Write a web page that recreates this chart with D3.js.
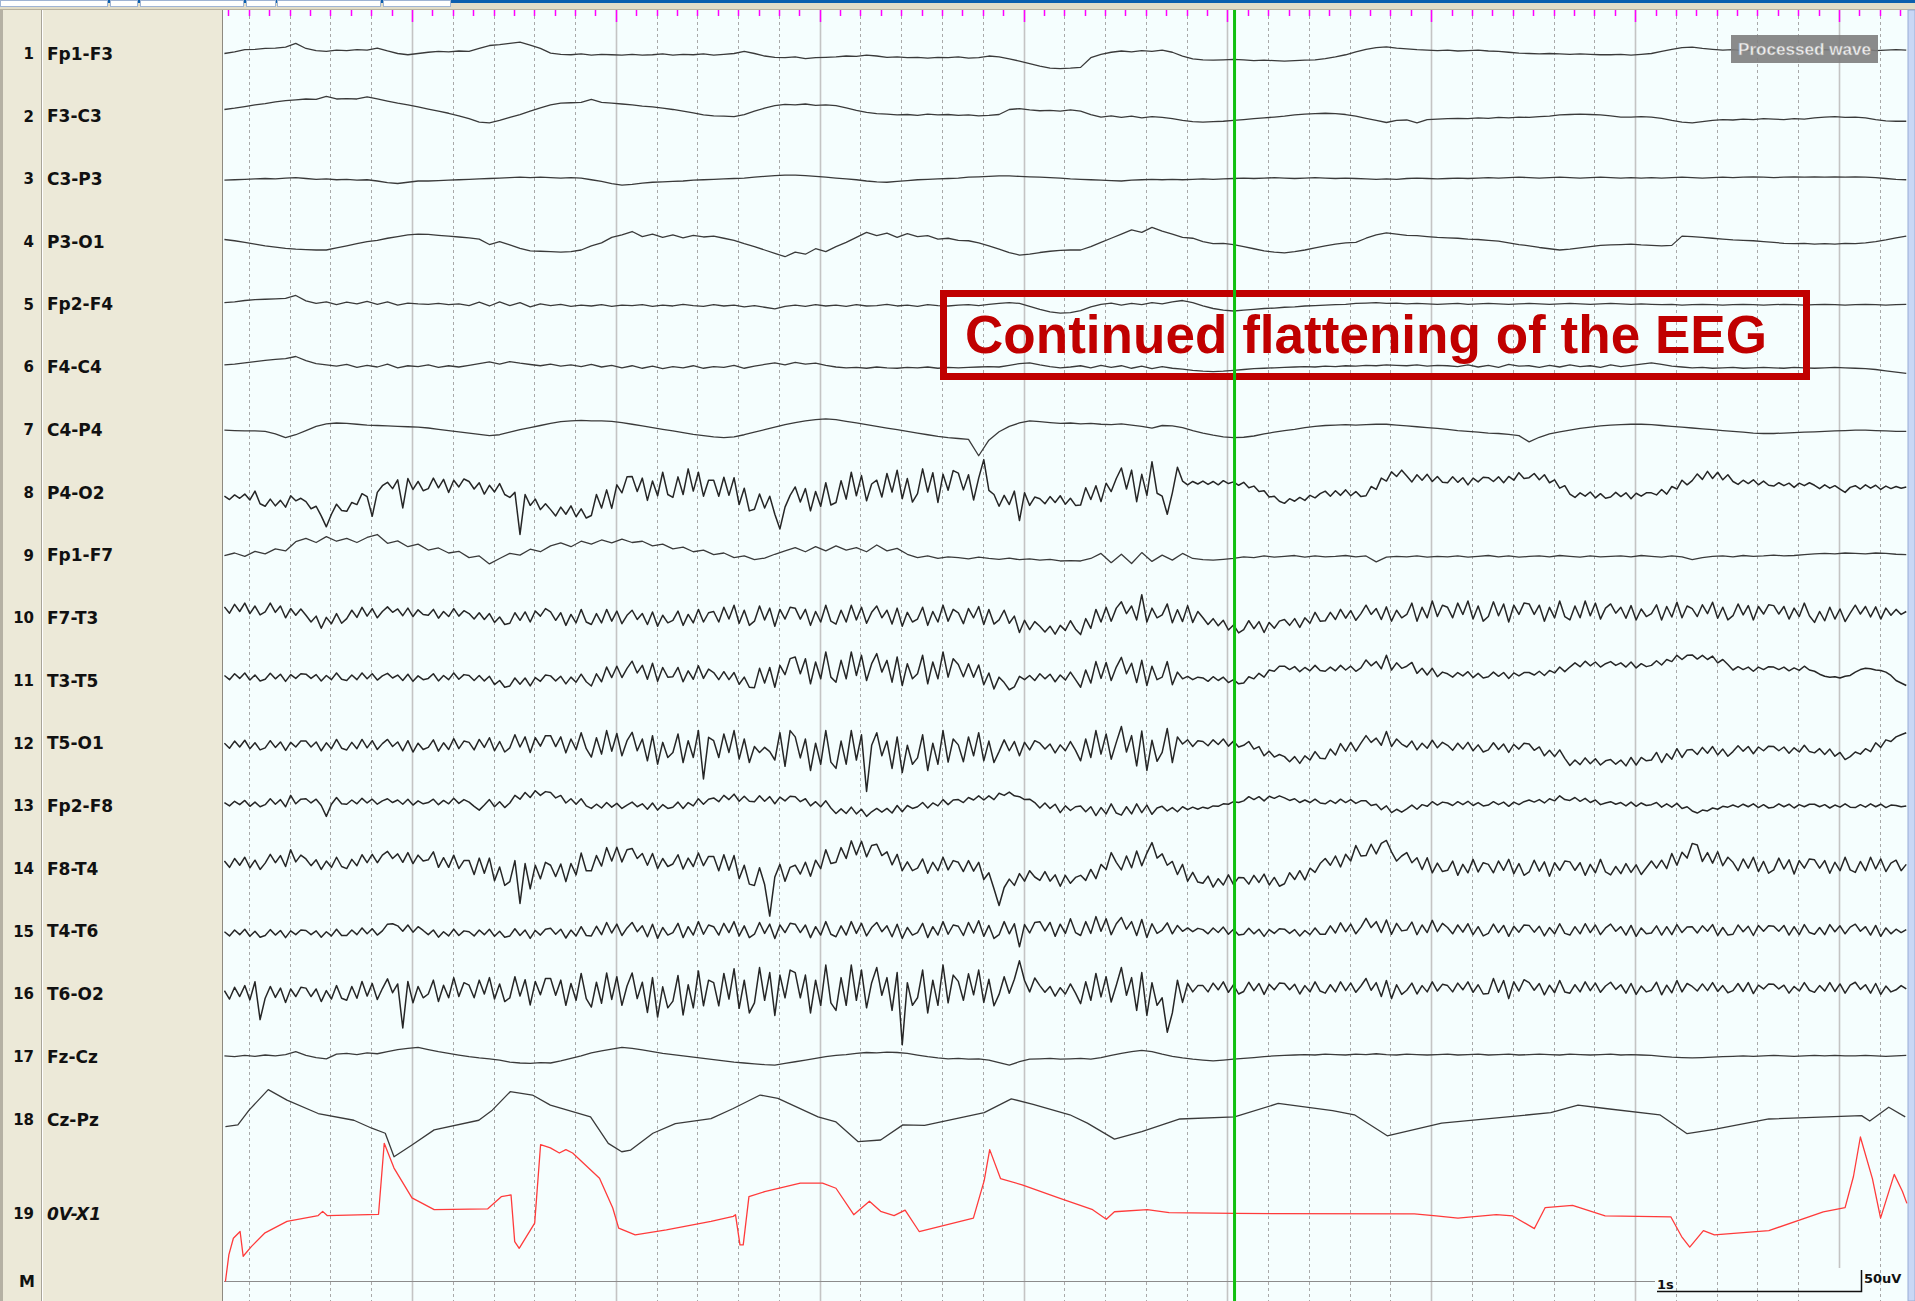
<!DOCTYPE html>
<html>
<head>
<meta charset="utf-8">
<script src="https://cdn.jsdelivr.net/npm/d3@7"></script>
<style>
html, body { margin: 0; padding: 0; background: #fff; overflow: hidden; }
svg { display: block; }
</style>
</head>
<body>
<script>
// ---- montage ----
const channelNames = ["Fp1-F3", "F3-C3", "C3-P3", "P3-O1", "Fp2-F4", "F4-C4", "C4-P4", "P4-O2", "Fp1-F7",
  "F7-T3", "T3-T5", "T5-O1", "Fp2-F8", "F8-T4", "T4-T6", "T6-O2", "Fz-Cz", "Cz-Pz", "0V-X1"]
const rowSlots = [1, 2, 3, 4, 5, 6, 7, 8, 9, 10, 11, 12, 13, 14, 15, 16, 17, 18, 19.5]

// samples start at 0.08 s; slow channels every 0.05 s, busy channels every 0.025 s (values in uV)
const sampleStart = 0.08

const fp1f3 = [0,4,9,10,12,13,15,24,12,7,5,8,7,9,8,13,6,0,-3,0,
  3,5,4,6,5,12,19,21,24,27,20,12,1,-2,-3,-1,-4,-2,-3,-4,
  -2,-4,-3,-1,-4,-2,-3,-1,-4,-2,0,5,0,-6,-9,-10,-8,-12,-10,-9,
  -8,-6,-7,-4,-6,-9,-8,-10,-9,-11,-9,-10,-8,-11,-10,-6,-8,-13,-18,-24,
  -30,-35,-36,-35,-33,-10,-2,3,6,4,7,5,8,3,-6,-13,-15,-16,-15,-14,
  -15,-17,-16,-17,-18,-17,-16,-15,-12,-8,-3,4,10,14,16,13,11,9,8,7,
  8,6,7,8,6,5,3,1,0,-1,0,-1,-2,-1,-2,-3,-3,-2,-4,-2,
  0,5,10,14,15,12,10,8,9,7,8,9,7,8,9,7,8,9,8,7,
  8,9,7,8,9,8]

const f3c3 = [16,19,23,27,30,34,37,39,41,40,47,41,42,41,46,41,36,31,27,22,
  17,12,7,1,-6,-14,-16,-10,-3,4,12,20,27,31,32,33,40,33,31,29,
  27,24,22,19,16,12,8,3,1,0,-1,4,12,19,25,28,27,29,26,27,
  25,20,14,9,6,5,3,4,2,5,3,4,2,3,1,2,4,16,18,15,
  13,14,12,15,12,4,-2,1,-3,0,-4,-1,-3,-6,-10,-13,-14,-13,-12,-10,
  -8,-6,-4,-2,0,3,5,6,7,6,4,0,-5,-10,-15,-10,-9,-16,-8,-7,
  -6,-5,-6,-4,-5,-3,-4,-2,-3,-1,0,3,4,5,4,3,1,-2,-2,-1,
  -2,-5,-10,-14,-16,-13,-10,-8,-9,-7,-8,-6,-7,-8,-6,-7,-4,-2,-1,-3,
  -2,-4,-8,-11,-12,-12]

const c3p3 = [-3,-2,-1,0,1,0,2,3,1,-1,0,-2,-1,-3,-2,-5,-9,-11,-8,-5,
  -5,-4,-3,-2,-1,0,1,2,3,4,3,4,3,2,3,2,-2,-6,-11,-15,
  -13,-10,-8,-7,-6,-5,-3,-2,-1,0,1,2,4,6,8,9,9,8,6,4,
  2,0,-2,-5,-7,-8,-6,-4,-2,-1,0,1,2,4,5,6,7,7,6,5,
  4,3,2,0,-1,-2,-3,-4,-5,-3,-2,-1,-2,-1,-2,-1,0,-1,0,1,
  2,1,2,3,2,1,2,3,2,1,2,1,0,-1,0,-1,1,2,1,0,
  1,2,1,2,3,2,3,4,3,2,3,4,3,2,3,4,3,2,3,2,
  3,2,3,4,3,2,3,4,3,4,5,4,3,4,5,4,5,4,5,4,
  5,4,3,1,-1,-2]

const p3o1 = [5,2,-2,-6,-10,-13,-16,-18,-19,-20,-20,-15,-10,-5,0,3,8,12,16,18,
  17,15,13,11,9,6,-7,0,-8,-16,-22,-23,-24,-25,-24,-20,-10,-3,10,16,
  24,12,18,10,16,9,15,11,13,8,3,-5,-12,-20,-28,-36,-25,-30,-17,-24,
  -12,-2,10,22,14,20,10,19,12,14,6,8,3,2,-3,-10,-18,-26,-32,-30,
  -26,-23,-21,-20,-20,-12,-2,8,18,28,22,34,25,18,10,8,0,-5,-4,-7,
  -12,-17,-22,-25,-27,-24,-20,-15,-10,-6,-3,-2,8,16,21,18,15,14,12,10,
  9,8,6,5,3,1,-3,-7,-10,-14,-17,-20,-18,-15,-12,-9,-8,-7,-6,-8,
  -9,-10,-9,13,12,10,8,6,4,3,2,0,-2,-4,-5,-4,-6,-5,-6,-4,
  -5,-3,0,4,9,13]

const fp2f4 = [4,6,9,11,12,13,14,21,8,2,6,-1,5,1,7,0,6,-2,3,1,
  0,2,-1,1,-3,5,-4,6,-3,4,-6,1,-3,0,-5,-2,-4,-1,-5,-2,
  -3,-1,-5,-2,-4,0,-3,-5,-1,-4,-2,-6,-3,-7,-11,-5,-2,-5,-1,-4,
  -2,-5,-1,-4,-3,0,-4,-2,-5,-1,-3,-4,-2,-1,-3,0,2,4,2,-5,
  -12,-18,-21,-20,-15,-6,0,3,-2,2,-1,4,1,6,9,4,-4,-10,-14,-16,
  -14,-12,-10,-9,-7,-6,-4,-3,-2,-1,0,2,3,4,2,3,1,2,1,0,
  1,2,0,1,2,1,0,1,2,1,0,1,2,1,0,1,2,1,0,1,
  0,-1,0,-2,-1,0,-1,-2,-1,0,-1,-2,-1,0,-1,-2,-1,0,-1,-2,
  -1,0,-1,-2,-1,0]

const f4c4 = [5,7,10,13,16,18,20,25,15,8,5,2,6,-1,4,0,7,-2,3,1,
  5,-1,3,0,4,8,12,7,13,9,6,3,7,2,5,1,6,0,4,-2,
  3,-3,2,-4,1,-2,3,-3,1,-1,4,-3,2,6,10,5,11,7,9,4,
  0,-2,-1,-3,0,-2,-3,-1,-2,0,-3,-1,-2,-1,0,1,0,4,8,10,
  5,1,-2,0,3,-2,4,-1,3,-3,2,-4,1,-3,-5,-8,-10,-11,-10,-8,
  -6,-4,-3,-2,-1,0,1,0,2,1,3,2,4,3,5,4,3,5,2,4,
  3,1,5,0,4,-1,6,2,3,-1,4,0,5,1,3,-1,5,1,4,7,
  10,6,2,0,-2,-1,-3,-2,-1,-3,-2,-1,-2,-3,-1,-2,-3,-2,-1,-2,
  -3,-4,-6,-9,-12,-15]

const c4p4 = [-1,-2,-3,-3,-4,-10,-19,-12,-2,8,14,16,15,13,11,10,9,8,7,6,
  4,1,-2,-5,-8,-11,-14,-12,-6,0,5,10,15,19,21,22,21,21,20,17,
  13,9,5,1,-3,-7,-11,-14,-17,-19,-17,-12,-6,0,6,12,17,21,24,26,
  24,20,16,12,8,4,0,-4,-8,-12,-16,-19,-21,-23,-62,-25,-5,8,16,21,
  19,17,15,16,14,15,13,12,14,11,8,4,10,9,5,-2,-8,-13,-17,-19,
  -18,-15,-10,-6,-2,1,5,8,10,11,12,11,12,13,13,11,9,7,5,3,
  1,-2,-4,-6,-8,-9,-11,-14,-29,-18,-10,-5,-1,3,6,9,11,12,13,13,
  12,10,8,6,4,2,0,-2,-4,-6,-8,-9,-9,-8,-7,-6,-5,-4,-3,-2,
  -1,-1,-2,-3,-4,-4]

const p4o2 = [-9,-17,-6,-14,-4,-18,3,-27, -33,-16,-32,-19,-35,-8,-20,-14, -22,-39,-33,-56,-82,-52,-28,-43, -45,-24,-29,-3,-10,-57,0,16, 24,9,30,-37,33,7,26,4,
  9,34,11,31,0,29,13,32, 26,8,23,-4,17,1,21,-5, -12,0,-100,-5,-31,-16,-41,-27, -41,-56,-35,-52,-32,-58,-39,-61, -55,-5,-37,6,-38,18,-1,37,
  38,2,34,-19,27,-8,48,-5, -12,37,-5,56,3,48,-9,29, 29,-9,36,-7,35,-29,10,-44, -40,-4,-37,-9,-52,-87,-35,-7, 13,-23,9,-44,2,-33,23,-30,
  -24,28,-16,48,-8,40,-20,20, 29,-11,45,1,53,-15,33,-23, -3,56,1,47,-24,43,5,52, 46,6,42,-18,34,78,5,-5, -33,-7,-29,3,-67,-1,-31,-11,
  -15,-27,-10,-24,-8,-28,-14,-31, -30,11,-17,16,-22,22,2,33, 58,8,53,-22,43,-7,73,-2, -9,-52,-1,60,27,18,26,20, 27,19,26,18,28,21,25,17,
  24,11,15,2,4,-11,-9,-21, -26,-15,-21,-12,-19,-7,-13,-3, 3,-9,4,-7,6,-8,2,-10, -8,14,7,34,27,49,38,53, 39,25,42,29,43,26,38,24,
  23,37,24,35,18,34,25,36, 35,26,37,23,38,29,47,33, 35,45,30,42,23,30,10,16, -4,-12,-1,-9,1,-13,-3,-14, -11,0,-10,-1,-15,-2,-9,-1,
  -1,-6,7,-4,14,8,29,18, 28,44,31,50,33,48,30,42, 26,19,29,21,30,18,27,17, 15,23,16,22,12,22,16,23, 17,9,18,10,16,8,0,12,
  16,8,18,10,17,7,15,9, 14,10,13]

const fp1f7 = [-1,5,-3,9,3,15,10,32,40,30,44,33,40,30,42,49,28,34,20,26,
  12,17,5,9,-6,-2,-21,-8,4,0,14,8,22,29,20,33,26,36,29,38,
  30,33,22,26,15,19,8,12,1,5,-6,-2,-11,-7,2,10,18,8,20,10,
  22,12,18,8,24,10,16,2,-6,-2,-8,-4,-6,-9,-5,-8,-10,-7,-11,-9,
  -12,-10,-14,-13,-14,-8,4,-18,2,-20,6,-15,0,-12,4,-8,-11,-12,-10,-8,
  -4,-6,-2,-5,-3,-1,-5,-2,-4,-3,-1,-4,-2,-16,-5,-3,-4,-2,-5,-3,
  -4,-2,-5,-3,-1,-4,-2,-5,-3,-2,-4,-1,-3,-5,-2,-4,-3,-2,-4,-1,
  -3,-5,-2,-4,-11,-6,-3,-2,-4,-1,-3,-2,0,-2,-1,1,3,4,3,5,
  4,3,5,4,2,1]

const f7t3 = [26,11,32,15,35,10,28,7, 14,35,13,28,0,22,6,21, 6,-10,4,-25,1,-14,10,-13, -2,18,1,25,4,22,0,15, 26,13,21,5,23,3,19,8,
  6,20,-1,15,3,22,4,17, 10,-3,12,-4,10,-11,2,-16, -13,12,-6,14,-10,16,4,22, 14,-6,12,-18,8,-12,20,-10, -16,10,-12,20,-8,16,-14,6,
  18,-4,10,-16,14,-20,6,-12, -6,16,-18,8,-12,20,-10,12, 15,-10,25,-3,30,-13,18,-18, -8,28,-5,23,-20,20,-3,25, 23,-3,20,-18,15,-10,30,-8,
  -15,18,-10,30,-5,25,-13,13, 28,0,18,-15,23,-20,13,-10, -3,25,-18,15,-10,30,-8,20, 12,-14,22,0,27,-16,20,-15, -5,18,-13,4,-35,-6,-28,-9,
  -20,-34,-20,-39,-18,-30,-7,-27, -40,-2,-25,20,-10,25,-8,23, 38,10,28,-5,55,-10,23,0, 7,33,-12,19,-9,29,-11,15, 0,-16,-2,-19,-6,-29,-17,-36,
  -28,-7,-26,-9,-35,-11,-25,-8, -4,-18,-2,-23,0,-13,13,-8, -7,13,-4,20,-1,17,-6,10, 30,8,22,-4,26,-8,18,0, 8,35,-8,25,0,40,3,30,
  25,0,35,8,40,-3,28,-8, 3,38,5,33,-10,30,8,35, 33,8,30,-8,25,0,40,3, -5,28,0,40,5,35,-3,23, 33,11,25,-1,29,-5,21,3,
  10,31,-5,27,2,37,0,28, 22,3,31,10,37,-1,25,-5, 5,33,7,29,-5,27,9,31, 29,9,27,-3,23,3,35,5, -11,15,-7,25,-3,21,-9,11,
  30,9,27,2,26,-3,23,6, 20,8,15]

const t3t5 = [12,2,16,5,18,1,13,-1, 3,17,4,15,-2,14,5,16, 15,5,14,-1,12,2,18,3, 0,13,2,18,4,16,1,11, 17,6,13,0,15,-2,11,2,
  5,16,-1,12,2,18,3,14, 12,0,12,-1,10,-10,0,-16, -13,6,-9,6,-13,7,-2,13, 11,-1,10,-8,8,-4,15,-3, -13,16,-3,32,7,34,7,29,
  46,18,36,3,41,-2,31,8, 9,31,-3,23,3,35,5,27, 19,2,21,2,19,-9,8,-16, -17,29,-6,31,-16,36,14,52, 56,16,52,-8,44,4,68,8,
  -4,48,4,68,12,60,0,40, 64,20,48,-4,56,-12,40,4, 16,60,-8,44,4,68,8,52, 38,9,40,8,37,-10,18,-20, 8,-5,-22,-15,10,2,12,0,
  16,4,15,-3,13,1,20,2, -16,25,-6,45,5,43,0,32, 55,16,41,-5,48,-12,34,2, 8,45,-10,20,4,10,2,8, 6,-2,9,0,8,-5,2,-8,
  -6,9,4,17,8,25,22,34, 34,26,33,21,31,23,36,24, 22,32,23,36,25,34,22,30, 49,35,45,28,60,25,42,29, 34,43,17,29,13,29,9,20,
  16,8,19,11,21,7,17,6, 9,20,10,19,5,18,11,19, 19,13,22,12,24,18,32,21, 32,42,33,46,35,44,32,40, 45,36,42,32,44,30,40,33,
  36,47,37,50,45,60,50,60, 61,51,60,50,58,42,50,38, 25,33,26,32,22,32,26,33, 32,26,32,23,30,24,34,25, 22,15,10,8,9,6,10,12,
  20,26,29,28,25,24,20,12, 0,-6,-12]

const t5o1 = [0,-12,5,-9,7,-13,1,-16, -11,6,-10,3,-17,2,-9,5, 5,-9,3,-18,1,-13,9,-12, -16,2,-13,9,-11,6,-15,-1, 9,-8,3,-18,6,-21,0,-15,
  -10,8,-19,1,-15,11,-13,5, 2,-16,9,-10,13,-18,4,-21, -11,20,-9,15,-22,13,-7,18, 18,-8,15,-23,10,-15,25,-13, -33,13,-26,30,-19,23,-30,6,
  26,-18,10,-42,18,-50,2,-34, -22,22,-46,6,-34,30,-85,14, 6,-34,22,-22,30,-38,10,-46, -8,-22,-10,-20,-40,25,-55,30, 15,-35,10,-65,0,-50,30,-45,
  -60,5,-50,30,-40,20,-115,-5, 25,-30,5,-60,15,-70,-5,-50, -35,20,-65,0,-50,30,-45,10, -4,-44,15,-30,25,-42,5,-46, -20,8,-18,4,-30,2,-16,6,
  0,-14,-2,-23,-4,-18,4,-17, -42,10,-34,30,-26,22,-38,2, 40,-21,18,-54,29,-65,7,-43, -22,35,-46,15,-2,8,-8,6, 4,-6,8,-3,10,-7,5,-9,
  -5,4,-14,-8,-30,-19,-33,-27, -32,-44,-32,-48,-30,-40,-20,-36, -37,-14,-28,-1,-19,2,-19,0, 18,2,12,-5,28,-8,10,-2, -9,5,-16,0,-12,7,-11,2,
  -5,-17,0,-14,2,-18,-4,-21, -16,1,-15,-2,-22,-3,-14,0, -2,-17,-9,-30,-17,-32,-16,-36, -53,-40,-51,-35,-49,-37,-52,-42, -39,-50,-40,-54,-34,-52,-34,-42,
  -40,-22,-46,-25,-38,-13,-34,-16, -15,-27,-10,-24,-8,-28,-14,-31, -20,-6,-19,-8,-25,-9,-18,-7, -8,-18,-9,-24,-11,-21,-5,-20, -23,-13,-27,-14,-31,-22,-39,-32,
  -21,-26,-13,-20,1,-10,8,4, 15,20,25]

const fp2f8 = [8,0,11,3,13,-1,9,-2, 3,17,4,15,-2,25,5,16, 17,7,16,1,-25,4,20,5, 4,14,5,18,7,16,4,12, 17,8,14,4,16,2,12,5,
  8,16,3,13,5,18,6,15, 9,-1,-10,2,15,-2,10,-4, 7,25,16,32,20,36,25,34, 32,19,25,7,17,4,17,0, -6,4,-5,8,-3,6,-6,2,
  9,-2,5,-8,7,-10,3,-6, -3,9,-6,8,0,17,4,16, 19,10,25,15,28,11,23,11, 10,24,11,22,5,21,12,23, 22,10,17,0,10,-2,12,-5,
  -18,-7,-18,-3,-19,-8,-25,-14, -6,-15,-6,-17,1,-14,1,-6, -2,8,-5,7,0,15,3,14, 15,8,20,14,24,14,24,15, 30,25,33,24,22,15,16,8,
  -5,7,-6,4,-16,0,-11,-2, 0,-14,-2,-23,-4,-19,5,-17, -22,-2,-19,5,-16,2,-20,-5, -1,-12,-4,-14,-2,-9,-3,-8, -3,-6,0,-1,5,4,10,8,
  12,22,15,22,12,23,18,24, 19,13,17,8,14,8,16,7, 5,13,6,16,8,15,6,12, 12,1,4,-9,0,-16,-8,-15, -7,2,-8,3,-1,10,2,9,
  7,1,10,3,11,1,8,0, 2,10,3,9,-1,9,3,10, 14,9,15,7,17,12,24,15, 13,20,11,18,8,14,3,7, 10,4,8,0,9,-1,7,1,
  3,8,-3,5,-3,6,-6,-2, -12,-17,-10,-12,-5,-8,-1,-3, 2,-3,4,-2,5,-4,3,-5, -3,5,-2,4,-5,3,-2,4, 4,-2,3,-5,2,-3,5,-3,
  -4,3,-3,5,-2,4,-4,2, 1,-2,0]

const f8t4 = [18,3,24,8,27,2,20,-2, 13,34,14,31,5,45,16,32, 23,7,21,-2,18,3,27,5, 0,22,7,33,14,34,14,32, 41,24,35,15,38,12,32,18,
  21,40,3,26,3,32,0,19, 19,-14,25,-11,25,-29,4,-40, -31,19,-83,12,-48,8,-24,15, 8,-19,11,-31,12,-15,37,-5, -5,31,6,50,18,51,16,45,
  48,24,36,8,36,0,24,5, 11,33,-1,25,5,37,7,29, 29,-5,33,-4,31,-24,8,-37, -40,2,-38,-113,-20,10,-30,3, 8,-13,15,-18,20,0,45,12,
  15,50,24,66,33,65,28,55, 58,31,40,9,34,-5,16,-5, 1,23,-11,15,-5,27,-3,19, 15,-7,19,-6,15,-26,-10,-48, -88,-45,-25,-40,-12,-30,-5,-20,
  -28,-7,-30,-15,-42,-16,-35,-21, -16,-28,-2,-24,10,-2,38,15, -3,30,2,42,7,37,62,25, 35,8,17,-14,10,-30,-9,-32, -35,-18,-44,-24,-39,-15,-38,-21,
  -22,-37,-16,-33,-13,-39,-21,-42, -36,-10,-26,-5,-27,1,-9,12, 24,8,30,4,34,18,55,30, 31,58,35,60,67,40,18,30, 38,14,26,-2,26,-10,13,-7,
  -4,18,-16,10,-10,22,-8,14, 10,-10,18,-4,22,-12,12,-16, -8,20,-6,16,-18,14,-4,18, 16,-4,14,-16,10,-10,22,-8, -15,5,-12,12,-9,9,-14,2,
  18,1,20,0,36,8,39,25, 60,56,17,38,13,40,7,27, 15,-5,23,1,27,-7,17,-11, -3,25,-1,21,-13,19,1,23, 21,1,19,-11,15,-5,27,-3,
  -9,17,-5,27,-1,23,-7,13, 20,-5,10]

const t4t6 = [-1,-11,3,-8,5,-12,0,-14, -10,4,-9,2,-15,1,-8,3, 2,-8,1,-14,-1,-11,5,-10, -10,3,-8,8,-6,6,-9,1, 17,18,13,0,15,-2,11,2,
  -8,3,-14,-1,-11,5,-10,1, -1,-11,3,-8,5,-12,0,-14, -11,6,-10,3,-17,2,-9,5, 7,-7,5,-16,3,-11,11,-10, -11,12,-8,21,-4,17,-10,8,
  21,-1,13,-13,17,-17,9,-9, -3,19,-15,11,-9,23,-7,15, 11,-9,19,-3,23,-11,13,-15, -7,21,-5,17,-17,15,-3,19, 17,-3,15,-15,11,-9,23,-7,
  -13,13,-9,23,-5,19,-11,9, 21,-1,13,-13,17,-17,9,-9, -3,19,-15,11,-9,23,-7,15, 12,-10,21,-4,25,-12,14,-17, -8,23,-6,18,-37,16,-4,21,
  23,1,21,-12,17,-5,30,-3, -10,23,-5,35,0,30,-8,18, 33,5,23,-10,28,-15,18,-5, 3,20,-6,14,0,8,-1,7, 4,-6,8,-3,10,-7,5,-9,
  -7,7,-6,5,-12,4,-5,6, 5,-5,4,-11,2,-8,8,-7, -7,13,-4,20,-1,17,-6,10, 31,9,23,-3,27,-7,19,1, 3,22,-8,15,-3,26,-1,19,
  9,-6,15,-2,18,-8,11,-11, -5,17,-3,14,-12,12,-2,15, 14,-2,12,-11,9,-6,18,-5, -9,11,-6,18,-3,15,-8,8, 17,0,11,-9,14,-12,8,-6,
  -4,13,-9,11,-8,16,-3,10, 11,-4,13,0,16,-10,9,-9, -7,15,-1,12,-10,14,0,13, 12,0,14,-9,11,-8,16,-3, -7,9,-8,16,-1,13,-6,10,
  17,0,11,-9,14,-12,8,-6, 5,-3,4]

const t6o2 = [8,-12,16,-6,20,-14,29,-61, -10,18,-8,14,-20,12,-6,16, 14,-6,12,-18,8,-12,20,-10, -15,18,-10,30,-5,25,-13,13, 36,3,24,-81,30,-21,18,-9,
  0,33,-18,21,-9,39,-6,27, 21,-9,33,0,39,-12,24,-18, -9,41,-5,34,-26,30,-2,37, 37,-3,33,-27,25,-15,49,-11, -31,28,-22,50,-13,41,-27,19,
  50,-11,28,-44,39,-55,17,-33, -17,44,-50,22,-33,55,-28,33, 27,-28,49,-12,60,-34,33,-45, -21,63,-15,51,-51,45,-9,57, 51,-9,45,-45,33,-27,69,-21,
  -39,39,-27,69,-15,57,-33,27, 63,-3,39,-39,51,-121,27,-27, -9,57,-45,33,-27,69,-21,45, 30,-15,48,-2,57,-20,35,-28, -1,41,2,35,79,32,5,38,
  20,4,18,-5,15,0,24,2, -23,29,-15,49,-7,41,-19,21, 63,-3,39,-39,51,-51,27,-27, -9,-91,-45,33,-20,25,5,20, 20,5,26,10,29,4,22,0,
  6,28,8,25,-1,23,10,26, 25,10,23,0,20,5,29,7, 2,22,5,29,8,26,4,19, 37,9,27,-6,32,-11,22,-1, 9,26,0,20,5,29,7,23,
  20,5,26,10,29,4,22,0, 1,37,4,32,-11,29,7,34, 27,9,25,-2,21,3,32,5, 2,22,5,29,8,26,4,19, 28,11,22,2,25,-1,19,5,
  9,28,-2,21,3,32,5,25, 18,7,24,8,27,6,20,3, 8,25,6,27,1,21,12,24, 23,12,21,2,18,7,27,9, 4,20,7,27,6,24,2,21,
  28,11,22,2,25,-1,19,5, 10,20,12]

const fzcz = [2,0,3,1,4,2,5,12,3,-2,-5,6,8,5,9,7,12,17,20,22,
  17,12,8,4,0,-3,-5,-8,-13,-15,-16,-14,-15,-10,-4,2,9,14,18,22,
  20,16,12,8,5,2,-1,-4,-7,-10,-13,-15,-17,-19,-20,-16,-12,-8,-4,0,
  3,5,8,10,9,11,10,8,4,0,-3,-5,-4,-6,-5,-8,-14,-20,-12,-6,
  -5,-4,-6,-5,-4,-6,-2,3,8,12,15,12,6,1,-3,-6,-8,-10,-8,-6,
  -4,-2,0,2,3,4,5,4,6,5,4,6,5,7,5,4,6,5,4,5,
  6,4,5,6,4,5,6,4,5,6,5,4,6,5,4,5,6,4,5,4,
  3,1,-1,-2,-3,-2,-1,0,1,2,1,2,3,2,1,2,3,2,3,2,
  2,3,2,1,2,3]

// Cz-Pz and the red channel are read as vertices (time s, value uV)
const czpzTimes = [0.085,0.146,0.201,0.295,0.387,0.540,0.715,0.803,0.869,0.912,1.0,1.109,1.328,1.394,1.482,1.591,1.679,
  1.876,1.963,2.029,2.073,2.182,2.292,2.467,2.576,2.708,2.795,2.992,3.080,3.189,3.299,3.408,3.515,3.807,3.940,4.047,
  4.227,4.313,4.446,4.580,4.767,5.035,5.249,5.516,5.623,5.784,6.051,6.586,6.720,6.854,7.121,7.255,7.388,7.656,8.111,
  8.151,8.244,8.325]
const czpzValues = [-17,-13,22,71,46,14,-2,-21,-33,-89,-61,-25,-2,22,66,58,34,
  6,-57,-77,-73,-33,-10,2,26,58,50,6,-6,-53,-49,-13,-14,16,49,36,
  11,-9,-47,-29,1,6,38,21,11,-39,-9,16,34,26,11,-34,-24,1,9,
  -4,29,6]

const ovx1Times = [0.085,0.102,0.124,0.157,0.172,0.212,0.277,0.387,0.540,0.562,0.584,0.836,0.864,0.912,1.0,1.109,1.372,
  1.438,1.486,1.504,1.526,1.602,1.631,1.679,1.723,1.755,1.788,1.920,1.985,2.014,2.095,2.248,2.467,2.576,2.587,2.609,
  2.625,2.653,2.730,2.905,3.014,3.080,3.167,3.244,3.299,3.365,3.419,3.488,3.754,3.807,3.834,3.887,3.993,4.179,4.339,
  4.406,4.446,4.607,4.714,5.035,5.917,6.024,6.131,6.319,6.399,6.506,6.559,6.693,6.853,7.175,7.228,7.268,7.335,7.389,
  7.656,7.923,8.030,8.071,8.105,8.164,8.204,8.271,8.311,8.333]
const ovx1Values = [-162,-98,-59,-43,-102,-79,-47,-19,-5,5,-5,-2,167,108,37,9,11,
  40,44,-67,-83,-23,164,156,144,152,144,84,13,-35,-51,-39,-19,-7,-3,-75,
  -75,40,52,72,72,60,-3,29,5,-5,8,-43,-11,78,152,83,68,36,9,
  -14,4,9,2,0,-1,-6,-11,-3,-6,-36,14,19,-6,-8,-55,-80,-41,-51,
  -41,4,14,88,182,83,-11,93,53,24]

const tenthTicks = d3.range(1, 84)     // 0.1 s marks
const fifthTicks = d3.range(1, 42)     // 0.2 s grid
const cursorTime = 5.035
const noteText = "Continued flattening of the EEG"

// ---- layout ----
const W = 1915, H = 1301
const plotLeft = 223, plotRight = 1908, plotTop = 10
const x = d3.scaleLinear().domain([0, 1]).range([208.1, 411.96])
const row = d3.scaleLinear().domain([1, 18]).range([53.5, 1119.4])
const amp = d3.scaleLinear().domain([0, 50]).range([0, -21])
const mY = 1281

const sampled = [fp1f3, f3c3, c3p3, p3o1, fp2f4, f4c4, c4p4, p4o2, fp1f7, f7t3, t3t5, t5o1, fp2f8, f8t4, t4t6, t6o2, fzcz]
const steps = [0.05, 0.05, 0.05, 0.05, 0.05, 0.05, 0.05, 0.025, 0.05, 0.025, 0.025, 0.025, 0.025, 0.025, 0.025, 0.025, 0.05]
const traces = sampled.map((vals, i) => vals.map((v, k) => [sampleStart + k * steps[i], v]))
traces.push(czpzTimes.map((t, k) => [t, czpzValues[k]]))
traces.push(ovx1Times.map((t, k) => [t, ovx1Values[k]]))

const svg = d3.select("body").append("svg").attr("width", W).attr("height", H)

// window chrome
svg.append("rect").attr("width", W).attr("height", H).attr("fill", "#ECE9D8")
svg.append("rect").attr("width", W).attr("height", 10).attr("fill", "#E2DDC9")
svg.append("rect").attr("width", W).attr("height", 3).attr("fill", "#0B5FAE")
const boxes = [[0, 107], [110, 137], [140, 243], [246, 275], [277, 380], [383, 450]]
svg.selectAll(".tb").data(boxes).enter().append("rect")
  .attr("x", d => d[0] + 0.5).attr("y", 0.5).attr("width", d => d[1] - d[0]).attr("height", 6)
  .attr("fill", "#fff").attr("stroke", "#9FB4D4")
svg.append("line").attr("x1", 0).attr("x2", W).attr("y1", 9.5).attr("y2", 9.5).attr("stroke", "#B8B2A0")

// plot background
svg.append("rect").attr("x", plotLeft).attr("y", plotTop).attr("width", plotRight - plotLeft).attr("height", H - plotTop)
  .attr("fill", "#F5FEFE")

// left panel lines
svg.append("rect").attr("x", 0).attr("y", plotTop).attr("width", 3).attr("height", H).attr("fill", "#B5B1A4")
svg.append("line").attr("x1", 41.5).attr("x2", 41.5).attr("y1", plotTop).attr("y2", H).attr("stroke", "#A8A499")
svg.append("line").attr("x1", 42.5).attr("x2", 42.5).attr("y1", plotTop).attr("y2", H).attr("stroke", "#FFFFFF")
svg.append("line").attr("x1", 222.5).attr("x2", 222.5).attr("y1", plotTop).attr("y2", H).attr("stroke", "#8E8A80")

// scroll bar at right
svg.append("rect").attr("x", 1908).attr("y", plotTop).attr("width", 7).attr("height", H - plotTop)
  .attr("fill", "#C9D7F5").attr("stroke", "#98ACD6")

const clip = svg.append("defs").append("clipPath").attr("id", "plotclip")
clip.append("rect").attr("x", plotLeft + 1).attr("y", plotTop).attr("width", plotRight - plotLeft - 1).attr("height", H - plotTop)
const plot = svg.append("g").attr("clip-path", "url(#plotclip)")

// time grid: dashed every 0.2 s, solid each second
plot.selectAll(".grid").data(fifthTicks).enter().append("line")
  .attr("x1", d => Math.round(x(d / 5)) + 0.5).attr("x2", d => Math.round(x(d / 5)) + 0.5)
  .attr("y1", plotTop).attr("y2", d => d === 40 ? 1268 : H)
  .attr("stroke", d => d % 5 === 0 ? "#C4C4C4" : "#A9A9A9")
  .attr("stroke-width", d => d % 5 === 0 ? 1.6 : 1)
  .attr("stroke-dasharray", d => d % 5 === 0 ? null : "3,3")

// magenta tenths on top
plot.selectAll(".tick").data(tenthTicks).enter().append("line")
  .attr("x1", d => Math.round(x(d / 10)) + 0.5).attr("x2", d => Math.round(x(d / 10)) + 0.5)
  .attr("y1", plotTop).attr("y2", d => d % 10 === 0 ? plotTop + 12 : plotTop + 6)
  .attr("stroke", "#FF00FF").attr("stroke-width", 1.5)

// M line
plot.append("line").attr("x1", plotLeft).attr("x2", 1655).attr("y1", mY + 0.5).attr("y2", mY + 0.5)
  .attr("stroke", "#8C8C8C").attr("stroke-width", 1.2)

// traces (busy channels drawn a little heavier, like the dense bursts in the recording)
traces.forEach((pts, i) => {
  const base = row(rowSlots[i])
  const busy = i < 17 && steps[i] < 0.05
  const line = d3.line().x(d => x(d[0])).y(d => base + amp(d[1]))
  plot.append("path").datum(pts).attr("d", line)
    .attr("fill", "none")
    .attr("stroke", i === 18 ? "#FF3B3B" : (busy ? "#262626" : "#3A3A3A"))
    .attr("stroke-width", busy ? 1.5 : 1.3)
    .attr("stroke-linejoin", "round")
})

// channel labels
const labels = svg.append("g").attr("font-family", "DejaVu Sans, Verdana, sans-serif").attr("font-weight", "bold")
labels.selectAll(".num").data(channelNames).enter().append("text")
  .attr("x", 34).attr("y", (d, i) => row(rowSlots[i])).attr("dy", "0.36em")
  .attr("text-anchor", "end").attr("font-size", 15).attr("fill", "#111")
  .text((d, i) => i + 1)
labels.selectAll(".name").data(channelNames).enter().append("text")
  .attr("x", 47).attr("y", (d, i) => row(rowSlots[i])).attr("dy", "0.36em")
  .attr("font-size", 17).attr("fill", "#111")
  .attr("font-style", (d, i) => i === 18 ? "italic" : null)
  .text(d => d)
labels.append("text").attr("x", 35).attr("y", mY).attr("dy", "0.36em").attr("text-anchor", "end")
  .attr("font-size", 16).attr("fill", "#111").text("M")

// scale bar: 1 s and 50 uV
const barLeft = 1657, barRight = barLeft + (x(1) - x(0)), barY = 1291
svg.append("path")
  .attr("d", `M${barLeft},${barY + 0.5}H${Math.round(barRight) + 0.5}V${barY + amp(50)}`)
  .attr("fill", "none").attr("stroke", "#111").attr("stroke-width", 1.5)
svg.append("text").attr("x", barLeft).attr("y", 1289).attr("font-family", "DejaVu Sans, sans-serif")
  .attr("font-weight", "bold").attr("font-size", 13).attr("fill", "#111").text("1s")
svg.append("text").attr("x", Math.round(barRight) + 3).attr("y", 1283).attr("font-family", "DejaVu Sans, sans-serif")
  .attr("font-weight", "bold").attr("font-size", 13).attr("fill", "#111").text("50uV")

// "Processed wave" badge
svg.append("rect").attr("x", 1731).attr("y", 35).attr("width", 147).attr("height", 28)
  .attr("fill", "#7E7E7E").attr("opacity", 0.9)
svg.append("text").attr("x", 1738).attr("y", 55).attr("font-family", "Liberation Sans, Arial, sans-serif")
  .attr("font-weight", "bold").attr("font-size", 16).attr("fill", "#EFEFEF")
  .attr("stroke", "#9A9A9A").attr("stroke-width", 0.5)
  .attr("textLength", 133).attr("lengthAdjust", "spacingAndGlyphs").text("Processed wave")

// annotation
svg.append("rect").attr("x", 943.5).attr("y", 293.5).attr("width", 863).attr("height", 83)
  .attr("fill", "none").attr("stroke", "#C00000").attr("stroke-width", 7)
svg.append("text").attr("x", 965).attr("y", 353).attr("font-family", "Liberation Sans, Arial, sans-serif")
  .attr("font-weight", "bold").attr("font-size", 53).attr("fill", "#C00000")
  .attr("textLength", 802).attr("lengthAdjust", "spacingAndGlyphs").text(noteText)

// cursor
svg.append("line").attr("x1", x(cursorTime)).attr("x2", x(cursorTime)).attr("y1", plotTop).attr("y2", H)
  .attr("stroke", "#10C010").attr("stroke-width", 3)
</script>
</body>
</html>
